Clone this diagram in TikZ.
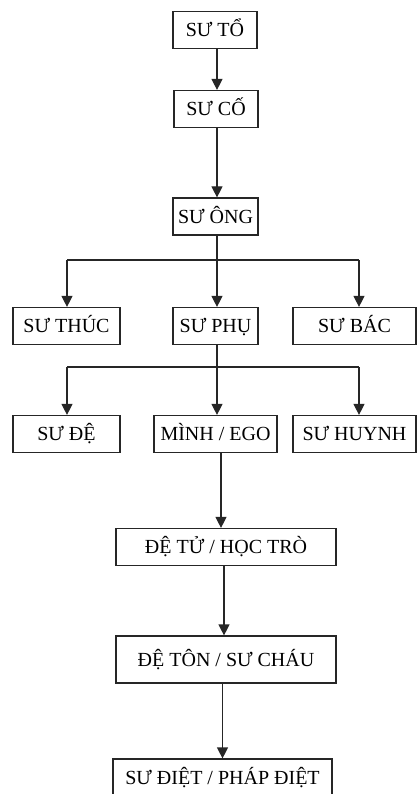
\documentclass[tikz,border=0pt]{standalone}
\usepackage{fontspec}
\setmainfont{Liberation Serif}
\usetikzlibrary{arrows.meta}

\tikzset{
  box/.style={draw=black!85, line width=1.2pt, inner sep=0pt,
    minimum height=37pt, text height=13pt, text depth=0pt,
    font=\fontsize{20}{22}\selectfont, anchor=center},
  link/.style={draw=black!85, line width=1.2pt},
  arr/.style={link, -{Triangle[width=11pt,length=11pt]}}
}

\begin{document}
\begin{tikzpicture}[x=1pt,y=-1pt]
\useasboundingbox (0,0) rectangle (417,794);
\clip (0,0) rectangle (417,794);

% lineage, top to bottom
\node[box, minimum width=84pt]  (to)    at (215,30)    {SƯ TỔ};
\node[box, minimum width=84pt]  (co)    at (216,109)   {SƯ CỐ};
\node[box, minimum width=85pt]  (ong)   at (215.5,216.5) {SƯ ÔNG};

\node[box, minimum width=107pt] (thuc)  at (66.5,326)  {SƯ THÚC};
\node[box, minimum width=85pt]  (phu)   at (215.5,326) {SƯ PHỤ};
\node[box, minimum width=123pt] (bac)   at (354.5,326) {SƯ BÁC};

\node[box, minimum width=107pt] (de)    at (66.5,434)  {SƯ ĐỆ};
\node[box, minimum width=123pt] (minh)  at (215.5,434) {MÌNH / EGO};
\node[box, minimum width=123pt] (huynh) at (354.5,434) {SƯ HUYNH};

\node[box, minimum width=220pt] (detu)  at (226,547)   {ĐỆ TỬ / HỌC TRÒ};
\node[box, minimum width=220pt, minimum height=47pt] (deton) at (226,659.5) {ĐỆ TÔN / SƯ CHÁU};
\node[box, minimum width=219pt, minimum height=38pt] (diet) at (222.5,778) {SƯ ĐIỆT / PHÁP ĐIỆT};

% straight descent
\draw[arr] ([xshift=2pt]to.south) -- ([xshift=2pt]to.south |- co.north);
\draw[arr] ([xshift=1pt]co.south) -- ([xshift=1pt]co.south |- ong.north);

% first branching
\coordinate (aL) at (67,260);
\coordinate (aR) at (359,260);
\draw[link] (aL) -- (aR);
\draw[arr] ([xshift=1.5pt]ong.south) -- ([xshift=1.5pt]ong.south |- phu.north);
\draw[arr] (aL) -- (aL |- thuc.north);
\draw[arr] (aR) -- (aR |- bac.north);

% second branching
\coordinate (bL) at (67,367);
\coordinate (bR) at (359,367);
\draw[link] (bL) -- (bR);
\draw[arr] ([xshift=1.5pt]phu.south) -- ([xshift=1.5pt]phu.south |- minh.north);
\draw[arr] (bL) -- (bL |- de.north);
\draw[arr] (bR) -- (bR |- huynh.north);

% descendants
\draw[arr] ([xshift=5.5pt]minh.south) -- ([xshift=5.5pt]minh.south |- detu.north);
\draw[arr] ([xshift=-2pt]detu.south) -- ([xshift=-2pt]detu.south |- deton.north);
\draw[arr] ([xshift=-3.5pt]deton.south) -- ([xshift=-3.5pt]deton.south |- diet.north);
\end{tikzpicture}
\end{document}
